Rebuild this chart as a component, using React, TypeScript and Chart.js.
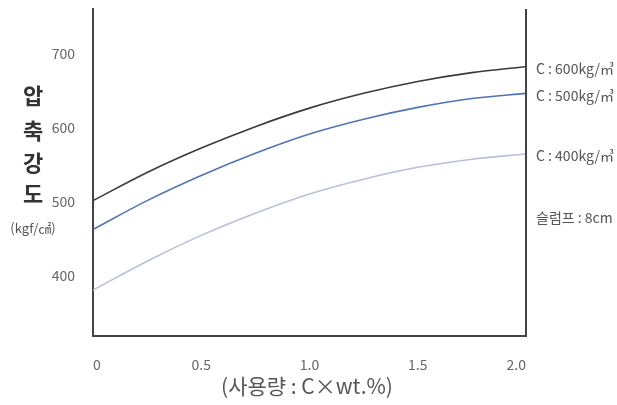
import React, { useEffect, useRef } from "react";
import { Chart, registerables } from "chart.js";

Chart.register(...registerables);

const xValues = [0, 0.25, 0.5, 0.75, 1.0, 1.25, 1.5, 1.75, 2.0];
const c600 = [501, 539, 572, 601, 626, 646, 662, 674, 682];
const c500 = [462, 501, 535, 565, 591, 611, 627, 639, 646];
const c400 = [380, 419, 454, 484, 510, 530, 546, 557, 564];
const seriesLabels = ["C : 600kg/㎥", "C : 500kg/㎥", "C : 400kg/㎥"];
const seriesColors = ["#3a3a3a", "#4f74b8", "#b9bfdc"];
const yTicks = [400, 500, 600, 700];
const xTicks = [0, 0.5, 1.0, 1.5, 2.0];
const xTickLabels = ["0", "0.5", "1.0", "1.5", "2.0"];
const yTitleChars = ["압", "축", "강", "도"];
const yUnit = "(kgf/㎠)";
const xTitle = "(사용량 : C×wt.%)";
const slumpNote = "슬럼프 : 8cm";

const FONT = '"Noto Sans CJK KR", "Noto Sans", sans-serif';

const overlay = {
  id: "overlay",
  afterDraw(chart: any) {
    const { ctx, chartArea } = chart;
    const ys = chart.scales.y;
    ctx.save();
    // right frame line
    ctx.strokeStyle = "#444";
    ctx.lineWidth = 2;
    ctx.beginPath();
    ctx.moveTo(chartArea.right, chartArea.top);
    ctx.lineTo(chartArea.right, chartArea.bottom + 1);
    ctx.stroke();

    // series labels at right
    ctx.fillStyle = "#555";
    ctx.font = `14px ${FONT}`;
    ctx.textAlign = "left";
    ctx.textBaseline = "middle";
    chart.data.datasets.forEach((ds: any, i: number) => {
      const last = ds.data[ds.data.length - 1];
      const y = ys.getPixelForValue(last.y);
      ctx.fillText(seriesLabels[i], chartArea.right + 10, y + 2);
    });
    ctx.fillText(slumpNote, chartArea.right + 10, 218);

    // y title (vertical Korean)
    ctx.fillStyle = "#333";
    ctx.font = `bold 22px ${FONT}`;
    ctx.textAlign = "center";
    const yPos = [96, 131, 163, 194];
    yTitleChars.forEach((ch, i) => ctx.fillText(ch, 33, yPos[i]));
    ctx.fillStyle = "#555";
    ctx.font = `13px ${FONT}`;
    ctx.fillText(yUnit, 33, 228);

    // x title
    ctx.fillStyle = "#555";
    ctx.font = `21px ${FONT}`;
    ctx.fillText(xTitle, 307, 386);
    ctx.restore();
  },
};

export default function App() {
  const ref = useRef<HTMLCanvasElement | null>(null);
  useEffect(() => {
    if (!ref.current) return;
    const series = [c600, c500, c400];
    const chart = new Chart(ref.current, {
      type: "line",
      data: {
        datasets: series.map((vals, i) => ({
          label: seriesLabels[i],
          data: vals.map((v, j) => ({ x: xValues[j], y: v })),
          borderColor: seriesColors[i],
          borderWidth: 1.6,
          pointRadius: 0,
          fill: false,
          cubicInterpolationMode: "monotone" as const,
        })),
      },
      options: {
        animation: false,
        responsive: false,
        devicePixelRatio: 1,
        layout: { padding: { top: 9, right: 91, left: 0, bottom: 0 } },
        plugins: { legend: { display: false }, tooltip: { enabled: false } },
        scales: {
          x: {
            type: "linear",
            min: 0,
            max: 2,
            grid: { display: false },
            border: { display: true, color: "#444", width: 2 },
            afterBuildTicks: (s: any) => {
              s.ticks = xTicks.map((v) => ({ value: v }));
            },
            afterFit: (s: any) => {
              s.height = 69;
              s.paddingLeft = 0;
              s.paddingRight = 0;
            },
            ticks: {
              align: "inner",
              padding: 12,
              color: "#666",
              font: { family: FONT, size: 14 },
              callback: (v: any) => {
                const idx = xTicks.indexOf(Number(v));
                return idx >= 0 ? xTickLabels[idx] : "";
              },
            },
          },
          y: {
            type: "linear",
            min: 318,
            max: 760,
            grid: { display: false },
            border: { display: true, color: "#444", width: 2 },
            afterBuildTicks: (s: any) => {
              s.ticks = yTicks.map((v) => ({ value: v }));
            },
            afterFit: (s: any) => {
              s.width = 93;
              s.paddingTop = 0;
              s.paddingBottom = 0;
            },
            ticks: {
              padding: 10,
              color: "#666",
              font: { family: FONT, size: 14 },
            },
          },
        },
      },
      plugins: [overlay],
    });
    return () => chart.destroy();
  }, []);
  return (
    <div style={{ position: "fixed", left: 0, top: 0, width: 617, height: 405, background: "#fff" }}>
      <canvas ref={ref} width={617} height={405} style={{ width: 617, height: 405 }} />
    </div>
  );
}
